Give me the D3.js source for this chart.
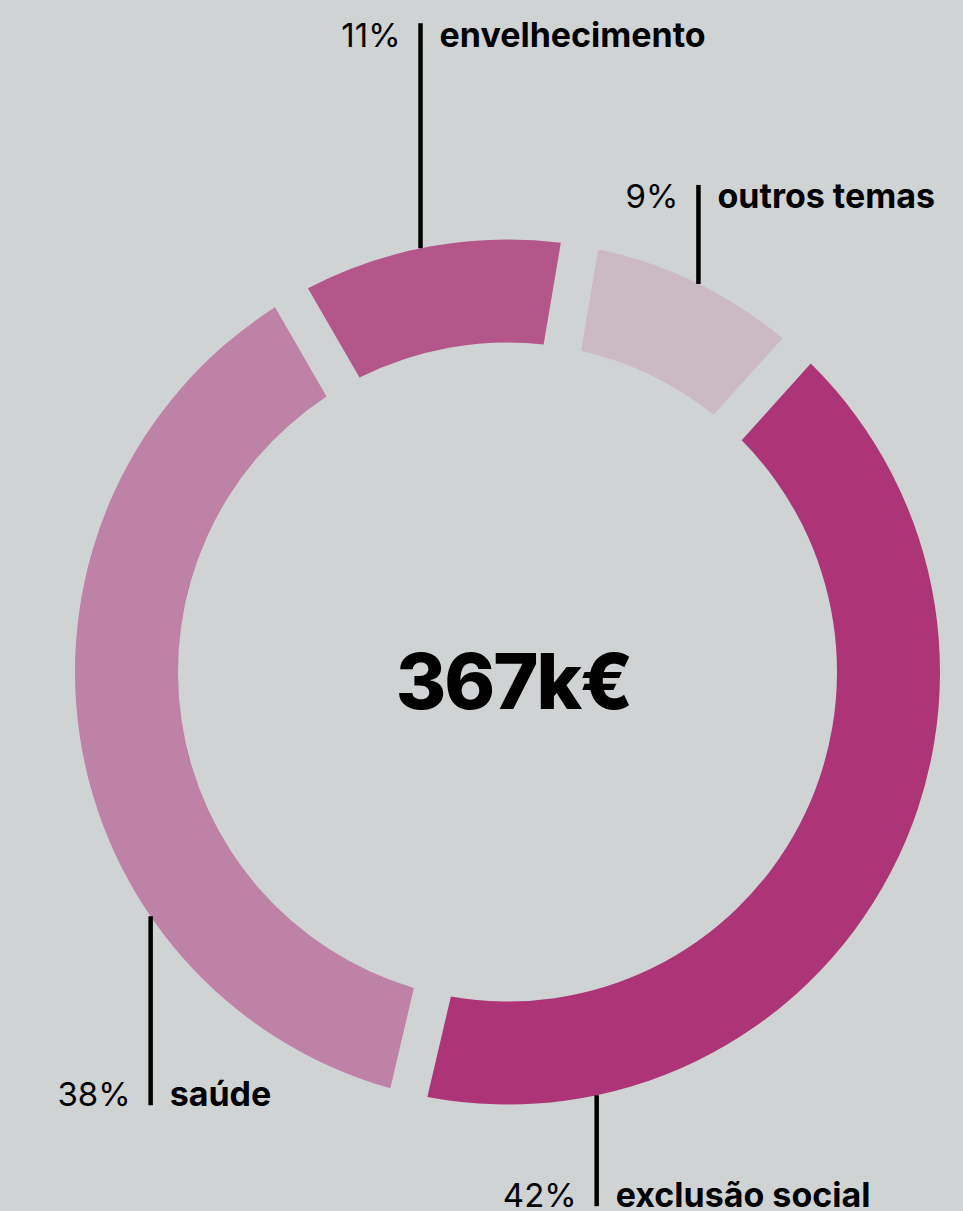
<!DOCTYPE html>
<html>
<head>
<meta charset="utf-8">
<script src="https://cdn.jsdelivr.net/npm/d3@7"></script>
<style>
  html, body { margin: 0; padding: 0; background: #cfd3d4; }
  #donut { width: 963px; height: 1211px; overflow: hidden; }
  text { font-family: Inter, "Noto Sans", sans-serif; }
</style>
</head>
<body>
<div id="donut"></div>
<script>
// data
const categories = ["envelhecimento", "outros temas", "exclusão social", "saúde"];
const shares = [11, 9, 42, 38];
const totalLabel = "367k€";

const colors = ["#b5568a", "#cbb9c4", "#ac3477", "#be82a6"];

// where each leader line sits (angle in degrees, clockwise from top) and how long it is
const labelAngle = [-11.6, 26.2, 168.1, 235.6];
const leaderLen = [225, 99, 111, 189];

const width = 963;
const height = 1211;
const cx = 507.5;
const cy = 672;
const outerR = 432.5;
const innerR = 329.5;

const svg = d3.select("#donut")
  .append("svg")
  .attr("width", width)
  .attr("height", height);

svg.append("rect")
  .attr("width", width)
  .attr("height", height)
  .attr("fill", "#cfd3d4");

const g = svg.append("g")
  .attr("transform", `translate(${cx},${cy})`);

const startA = -30 * Math.PI / 180;

const pie = d3.pie()
  .sort(null)
  .value(d => d.share)
  .startAngle(startA)
  .endAngle(startA + 2 * Math.PI);

// gap of ~38px with parallel edges
const gap = 38;
const padA = 0.08;
const arc = d3.arc()
  .innerRadius(innerR)
  .outerRadius(outerR)
  .padAngle(padA)
  .padRadius(gap / 2 / Math.sin(padA / 2));

const rows = categories.map((c, i) => ({ name: c, share: shares[i], color: colors[i] }));

g.selectAll("path")
  .data(pie(rows))
  .enter()
  .append("path")
  .attr("d", arc)
  .attr("fill", d => d.data.color);

// center total
g.append("text")
  .attr("x", 6)
  .attr("y", 37)
  .attr("text-anchor", "middle")
  .style("font-size", "77px")
  .style("font-weight", 800)
  .style("letter-spacing", "-2px")
  .style("fill", "#000")
  .text(totalLabel);

// leader lines and labels
const labels = g.selectAll(".lbl")
  .data(rows)
  .enter()
  .append("g")
  .attr("class", "lbl")
  .each(function (d, i) {
    const a = labelAngle[i] * Math.PI / 180;
    const x = outerR * Math.sin(a);
    const y0 = -outerR * Math.cos(a);
    const up = y0 < 0;
    const y1 = up ? y0 - leaderLen[i] : y0 + leaderLen[i];
    const sel = d3.select(this);

    sel.append("line")
      .attr("x1", x).attr("x2", x)
      .attr("y1", y0).attr("y2", y1)
      .attr("stroke", "#000")
      .attr("stroke-width", 4.5);

    // top labels hang from the line top, bottom labels sit on the line end
    const base = up ? y1 + 23.5 : y1 + 1;

    sel.append("text")
      .attr("x", x - 20)
      .attr("y", base)
      .attr("text-anchor", "end")
      .style("font-size", "33px")
      .style("font-weight", 400)
      .style("fill", "#000")
      .text(d.share + "%");

    sel.append("text")
      .attr("x", x + 19)
      .attr("y", base)
      .attr("text-anchor", "start")
      .style("font-size", "34px")
      .style("font-weight", 700)
      .style("fill", "#000")
      .text(d.name);
  });
</script>
</body>
</html>
